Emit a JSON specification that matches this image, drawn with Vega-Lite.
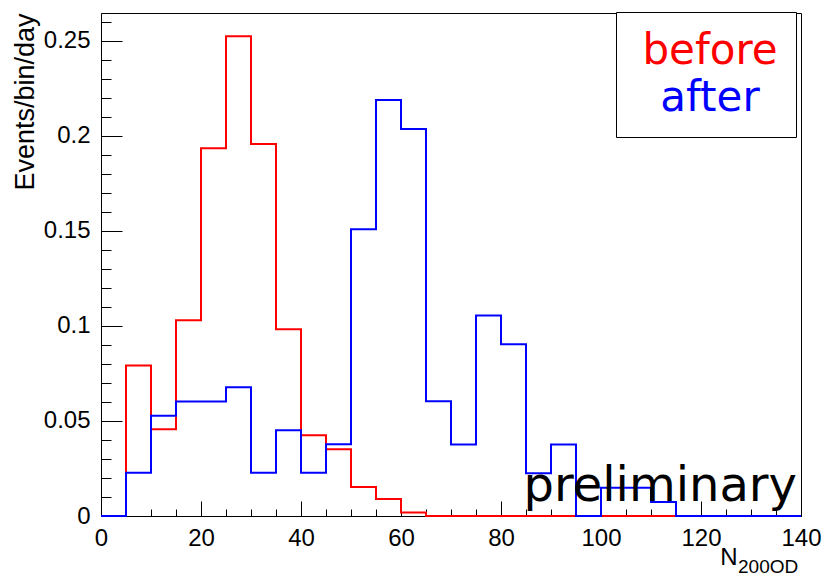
{
  "$schema": "https://vega.github.io/schema/vega-lite/v6.json",
  "width": 700,
  "height": 503,
  "autosize": {"type": "none"},
  "padding": {"left": 101, "top": 13, "right": 24, "bottom": 62},
  "background": "white",
  "config": {
    "view": {"stroke": "black", "strokeWidth": 1},
    "axis": {
      "grid": false,
      "domainColor": "black",
      "domainWidth": 1,
      "tickColor": "black",
      "tickWidth": 1,
      "labelFont": "Liberation Sans",
      "labelFontSize": 24,
      "labelColor": "black",
      "labelOverlap": false,
      "labelFlush": false,
      "titleFont": "Liberation Sans",
      "titleFontWeight": "normal",
      "titleColor": "black"
    }
  },
  "title": {
    "text": "200OD",
    "orient": "bottom",
    "frame": "group",
    "anchor": "start",
    "align": "left",
    "dx": 637,
    "offset": -11,
    "fontSize": 19,
    "font": "Liberation Sans",
    "fontWeight": "normal",
    "color": "black"
  },
  "resolve": {"axis": {"x": "independent", "y": "independent"}},
  "datasets": {
    "hist": [
      {"x": 0, "v": 0, "s": "before"},
      {"x": 5, "v": 0.0792, "s": "before"},
      {"x": 10, "v": 0.0456, "s": "before"},
      {"x": 15, "v": 0.103, "s": "before"},
      {"x": 20, "v": 0.1935, "s": "before"},
      {"x": 25, "v": 0.2525, "s": "before"},
      {"x": 30, "v": 0.1958, "s": "before"},
      {"x": 35, "v": 0.0983, "s": "before"},
      {"x": 40, "v": 0.0425, "s": "before"},
      {"x": 45, "v": 0.0351, "s": "before"},
      {"x": 50, "v": 0.0153, "s": "before"},
      {"x": 55, "v": 0.0089, "s": "before"},
      {"x": 60, "v": 0.0018, "s": "before"},
      {"x": 65, "v": 0, "s": "before"},
      {"x": 70, "v": 0, "s": "before"},
      {"x": 75, "v": 0, "s": "before"},
      {"x": 80, "v": 0, "s": "before"},
      {"x": 85, "v": 0, "s": "before"},
      {"x": 90, "v": 0, "s": "before"},
      {"x": 95, "v": 0, "s": "before"},
      {"x": 100, "v": 0, "s": "before"},
      {"x": 105, "v": 0, "s": "before"},
      {"x": 110, "v": 0, "s": "before"},
      {"x": 115, "v": 0, "s": "before"},
      {"x": 120, "v": 0, "s": "before"},
      {"x": 125, "v": 0, "s": "before"},
      {"x": 130, "v": 0, "s": "before"},
      {"x": 135, "v": 0, "s": "before"},
      {"x": 140, "v": 0, "s": "before"},
      {"x": 0, "v": 0, "s": "after"},
      {"x": 5, "v": 0.0228, "s": "after"},
      {"x": 10, "v": 0.0528, "s": "after"},
      {"x": 15, "v": 0.0602, "s": "after"},
      {"x": 20, "v": 0.0602, "s": "after"},
      {"x": 25, "v": 0.0677, "s": "after"},
      {"x": 30, "v": 0.0228, "s": "after"},
      {"x": 35, "v": 0.0451, "s": "after"},
      {"x": 40, "v": 0.0228, "s": "after"},
      {"x": 45, "v": 0.0377, "s": "after"},
      {"x": 50, "v": 0.1509, "s": "after"},
      {"x": 55, "v": 0.2189, "s": "after"},
      {"x": 60, "v": 0.2037, "s": "after"},
      {"x": 65, "v": 0.0604, "s": "after"},
      {"x": 70, "v": 0.0376, "s": "after"},
      {"x": 75, "v": 0.1055, "s": "after"},
      {"x": 80, "v": 0.0904, "s": "after"},
      {"x": 85, "v": 0.0225, "s": "after"},
      {"x": 90, "v": 0.0376, "s": "after"},
      {"x": 95, "v": 0, "s": "after"},
      {"x": 100, "v": 0.0149, "s": "after"},
      {"x": 105, "v": 0.0149, "s": "after"},
      {"x": 110, "v": 0.0074, "s": "after"},
      {"x": 115, "v": 0, "s": "after"},
      {"x": 120, "v": 0, "s": "after"},
      {"x": 125, "v": 0, "s": "after"},
      {"x": 130, "v": 0, "s": "after"},
      {"x": 135, "v": 0, "s": "after"},
      {"x": 140, "v": 0, "s": "after"}
    ]
  },
  "layer": [
    {
      "data": {"name": "hist"},
      "transform": [{"filter": "datum.s === 'before'"}],
      "mark": {"type": "line", "interpolate": "step-after", "strokeWidth": 2},
      "encoding": {
        "x": {
          "field": "x", "type": "quantitative",
          "scale": {"domain": [0, 140], "nice": false, "zero": false},
          "axis": {
            "orient": "bottom",
            "values": [0, 20, 40, 60, 80, 100, 120, 140],
            "format": "d",
            "ticks": false,
            "tickSize": 0,
            "labelPadding": 10,
            "title": "N",
            "titleFontSize": 24,
            "titleX": 636,
            "titleY": 48,
            "titleAlign": "right",
            "titleBaseline": "alphabetic"
          }
        },
        "y": {
          "field": "v", "type": "quantitative",
          "scale": {"domain": [0, 0.2647], "nice": false},
          "axis": {
            "orient": "left",
            "values": [0, 0.05, 0.1, 0.15, 0.2, 0.25],
            "labelExpr": "format(datum.value, '')",
            "ticks": false,
            "tickSize": 0,
            "labelPadding": 11,
            "title": "Events/bin/day",
            "titleFontSize": 27,
            "titleX": -68,
            "titleY": 0,
            "titleAngle": 270,
            "titleAlign": "right",
            "titleBaseline": "alphabetic"
          }
        },
        "color": {
          "field": "s", "type": "nominal",
          "scale": {"domain": ["before", "after"], "range": ["#ff0000", "#0000ff"]},
          "legend": {
            "title": null,
            "orient": "none",
            "legendX": 515,
            "legendY": -1,
            "direction": "vertical",
            "symbolSize": 0,
            "symbolOpacity": 0,
            "labelFont": "DejaVu Sans",
            "labelFontSize": 42,
            "labelAlign": "center",
            "labelOffset": 34,
            "labelLimit": 0,
            "labelColor": {"expr": "datum.value === 'before' ? '#ff0000' : '#0000ff'"},
            "padding": 18,
            "rowPadding": 5,
            "strokeColor": "black",
            "fillColor": "white",
            "cornerRadius": 0
          }
        }
      }
    },
    {
      "data": {"name": "hist"},
      "transform": [{"filter": "datum.s === 'after'"}],
      "mark": {"type": "line", "interpolate": "step-after", "strokeWidth": 2},
      "encoding": {
        "x": {
          "field": "x", "type": "quantitative",
          "scale": {"domain": [0, 140], "nice": false, "zero": false},
          "axis": {
            "orient": "bottom",
            "values": [0,5,10,15,20,25,30,35,40,45,50,55,60,65,70,75,80,85,90,95,100,105,110,115,120,125,130,135,140],
            "offset": -7,
            "tickSize": 7,
            "labels": false,
            "domain": false,
            "title": null
          }
        },
        "y": {
          "field": "v", "type": "quantitative",
          "scale": {"domain": [0, 0.2647], "nice": false},
          "axis": {
            "orient": "left",
            "values": [0,0.01,0.02,0.03,0.04,0.05,0.06,0.07,0.08,0.09,0.1,0.11,0.12,0.13,0.14,0.15,0.16,0.17,0.18,0.19,0.2,0.21,0.22,0.23,0.24,0.25,0.26],
            "offset": -10,
            "tickSize": 10,
            "labels": false,
            "domain": false,
            "title": null
          }
        },
        "color": {"field": "s", "type": "nominal"}
      }
    },
    {
      "data": {"values": [{"t": "preliminary", "px": 140, "py": 0}]},
      "mark": {"type": "text", "align": "right", "baseline": "alphabetic", "dx": -4, "dy": -15, "fontSize": 48, "font": "DejaVu Sans", "fill": "black"},
      "encoding": {
        "x": {
          "field": "px", "type": "quantitative",
          "scale": {"domain": [0, 140], "nice": false, "zero": false},
          "axis": {
            "orient": "bottom",
            "values": [0, 20, 40, 60, 80, 100, 120, 140],
            "offset": -15,
            "tickSize": 15,
            "labels": false,
            "domain": false,
            "title": null
          }
        },
        "y": {
          "field": "py", "type": "quantitative",
          "scale": {"domain": [0, 0.2647], "nice": false},
          "axis": {
            "orient": "left",
            "values": [0, 0.05, 0.1, 0.15, 0.2, 0.25],
            "offset": -21,
            "tickSize": 21,
            "labels": false,
            "domain": false,
            "title": null
          }
        },
        "text": {"field": "t"}
      }
    }
  ]
}
